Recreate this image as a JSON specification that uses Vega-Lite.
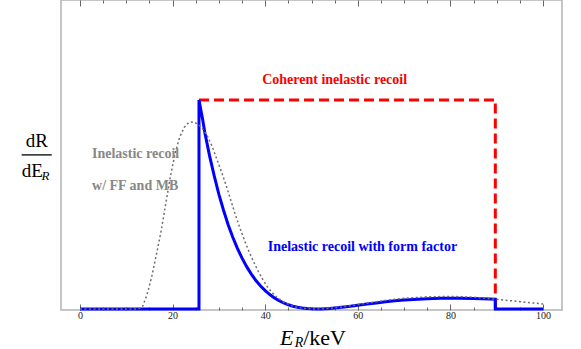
{
  "$schema": "https://vega.github.io/schema/vega-lite/v6.json",
  "width": 501,
  "height": 310,
  "autosize": "none",
  "padding": {"left": 61, "top": 0, "right": 19, "bottom": 39},
  "background": "white",
  "config": {
    "view": {"stroke": "#b4b4b4", "strokeWidth": 1.5},
    "text": {"font": "Liberation Serif"}
  },
  "data": {"values": [{}]},
  "datasets": {
    "curves": [
      {"s": "blue", "E": 0, "R": 0}, {"s": "blue", "E": 25.7, "R": 0}, {"s": "blue", "E": 25.7, "R": 1.0},
      {"s": "blue", "E": 26.5, "R": 0.905}, {"s": "blue", "E": 27, "R": 0.839}, {"s": "blue", "E": 28, "R": 0.731},
      {"s": "blue", "E": 29, "R": 0.636}, {"s": "blue", "E": 30, "R": 0.548}, {"s": "blue", "E": 31, "R": 0.472},
      {"s": "blue", "E": 32, "R": 0.403}, {"s": "blue", "E": 33, "R": 0.343}, {"s": "blue", "E": 34, "R": 0.29},
      {"s": "blue", "E": 35, "R": 0.243}, {"s": "blue", "E": 36, "R": 0.2025}, {"s": "blue", "E": 37, "R": 0.167},
      {"s": "blue", "E": 38, "R": 0.136}, {"s": "blue", "E": 39, "R": 0.11}, {"s": "blue", "E": 40, "R": 0.0875},
      {"s": "blue", "E": 41, "R": 0.069}, {"s": "blue", "E": 42, "R": 0.0527}, {"s": "blue", "E": 43, "R": 0.04},
      {"s": "blue", "E": 44, "R": 0.0286}, {"s": "blue", "E": 45, "R": 0.02}, {"s": "blue", "E": 46, "R": 0.0131},
      {"s": "blue", "E": 47, "R": 0.008}, {"s": "blue", "E": 48, "R": 0.0043}, {"s": "blue", "E": 49, "R": 0.0018},
      {"s": "blue", "E": 50, "R": 0.0004}, {"s": "blue", "E": 51, "R": 0}, {"s": "blue", "E": 52, "R": 0.0003},
      {"s": "blue", "E": 54, "R": 0.0027}, {"s": "blue", "E": 56, "R": 0.0068}, {"s": "blue", "E": 58, "R": 0.012},
      {"s": "blue", "E": 60, "R": 0.0178}, {"s": "blue", "E": 62, "R": 0.0235}, {"s": "blue", "E": 64, "R": 0.029},
      {"s": "blue", "E": 66, "R": 0.0342}, {"s": "blue", "E": 68, "R": 0.0388}, {"s": "blue", "E": 70, "R": 0.0428},
      {"s": "blue", "E": 72, "R": 0.0458}, {"s": "blue", "E": 75, "R": 0.0494}, {"s": "blue", "E": 78, "R": 0.051},
      {"s": "blue", "E": 80, "R": 0.0516}, {"s": "blue", "E": 82, "R": 0.0515}, {"s": "blue", "E": 85, "R": 0.0502},
      {"s": "blue", "E": 87, "R": 0.049}, {"s": "blue", "E": 89.7, "R": 0.0465}, {"s": "blue", "E": 89.7, "R": 0},
      {"s": "blue", "E": 100, "R": 0},
      {"s": "red", "E": 25.7, "R": 1.0}, {"s": "red", "E": 89.7, "R": 1.0}, {"s": "red", "E": 89.7, "R": 0},
      {"s": "gray", "E": 0, "R": 0}, {"s": "gray", "E": 12.5, "R": 0}, {"s": "gray", "E": 13.5, "R": 0.01},
      {"s": "gray", "E": 14.5, "R": 0.07}, {"s": "gray", "E": 15.5, "R": 0.155}, {"s": "gray", "E": 16.5, "R": 0.26},
      {"s": "gray", "E": 17.5, "R": 0.37}, {"s": "gray", "E": 18.5, "R": 0.5}, {"s": "gray", "E": 19.5, "R": 0.63},
      {"s": "gray", "E": 20.5, "R": 0.74}, {"s": "gray", "E": 21.5, "R": 0.82}, {"s": "gray", "E": 22.5, "R": 0.868},
      {"s": "gray", "E": 23.5, "R": 0.892}, {"s": "gray", "E": 24.5, "R": 0.895}, {"s": "gray", "E": 25.5, "R": 0.884},
      {"s": "gray", "E": 26.5, "R": 0.862}, {"s": "gray", "E": 27.5, "R": 0.828}, {"s": "gray", "E": 28.5, "R": 0.78},
      {"s": "gray", "E": 29.5, "R": 0.72}, {"s": "gray", "E": 30.5, "R": 0.66}, {"s": "gray", "E": 31.5, "R": 0.595},
      {"s": "gray", "E": 32.5, "R": 0.525}, {"s": "gray", "E": 33.5, "R": 0.455}, {"s": "gray", "E": 34.5, "R": 0.39},
      {"s": "gray", "E": 35.5, "R": 0.33}, {"s": "gray", "E": 36.5, "R": 0.275}, {"s": "gray", "E": 37.5, "R": 0.225},
      {"s": "gray", "E": 38.5, "R": 0.18}, {"s": "gray", "E": 39.5, "R": 0.14}, {"s": "gray", "E": 40.5, "R": 0.105},
      {"s": "gray", "E": 41.5, "R": 0.078}, {"s": "gray", "E": 42.5, "R": 0.056}, {"s": "gray", "E": 44, "R": 0.032},
      {"s": "gray", "E": 46, "R": 0.013}, {"s": "gray", "E": 48, "R": 0.004}, {"s": "gray", "E": 50, "R": 0},
      {"s": "gray", "E": 52, "R": 0}, {"s": "gray", "E": 54, "R": 0.003}, {"s": "gray", "E": 56, "R": 0.008},
      {"s": "gray", "E": 58, "R": 0.014}, {"s": "gray", "E": 60, "R": 0.021}, {"s": "gray", "E": 63, "R": 0.031},
      {"s": "gray", "E": 66, "R": 0.041}, {"s": "gray", "E": 70, "R": 0.051}, {"s": "gray", "E": 75, "R": 0.058},
      {"s": "gray", "E": 80, "R": 0.06}, {"s": "gray", "E": 85, "R": 0.056}, {"s": "gray", "E": 90, "R": 0.046},
      {"s": "gray", "E": 95, "R": 0.035}, {"s": "gray", "E": 100, "R": 0.024}
    ]
  },
  "resolve": {"axis": {"x": "independent"}},
  "layer": [
    {
      "data": {"name": "curves"},
      "transform": [{"filter": "datum.s === 'red'"}],
      "mark": {"type": "line", "color": "#ff0000", "strokeWidth": 3, "strokeDash": [10, 5]},
      "encoding": {
        "x": {"field": "E", "type": "quantitative",
              "scale": {"domain": [-4.1, 104.1], "nice": false, "zero": false},
              "axis": {"orient": "bottom", "values": [0,5,10,15,20,25,30,35,40,45,50,55,60,65,70,75,80,85,90,95,100],
                       "labelExpr": "datum.value % 20 === 0 ? datum.label : ''",
                       "tickSize": {"condition": {"test": "datum.value % 20 === 0", "value": -6}, "value": -3},
                       "tickColor": "#666666", "tickWidth": 1, "domain": false, "grid": false, "title": null,
                       "labelFont": "Liberation Serif", "labelFontSize": 10, "labelColor": "#222222",
                       "labelPadding": 6, "labelFlush": false, "labelOverlap": false}},
        "y": {"field": "R", "type": "quantitative",
              "scale": {"domain": [-0.005, 1.478], "nice": false, "zero": false}, "axis": null}
      }
    },
    {
      "data": {"name": "curves"},
      "transform": [{"filter": "datum.s === 'blue'"}],
      "mark": {"type": "line", "color": "#0000ff", "strokeWidth": 3},
      "encoding": {
        "x": {"field": "E", "type": "quantitative",
              "axis": {"orient": "top", "values": [0,5,10,15,20,25,30,35,40,45,50,55,60,65,70,75,80,85,90,95,100],
                       "labels": false,
                       "tickSize": {"condition": {"test": "datum.value % 20 === 0", "value": -6}, "value": -3},
                       "tickColor": "#666666", "tickWidth": 1, "domain": false, "grid": false, "title": null}},
        "y": {"field": "R", "type": "quantitative"}
      }
    },
    {
      "data": {"name": "curves"},
      "transform": [{"filter": "datum.s === 'gray'"}],
      "mark": {"type": "line", "color": "#6e6e6e", "strokeWidth": 1.5, "strokeDash": [2, 2.5]},
      "encoding": {
        "x": {"field": "E", "type": "quantitative", "axis": null},
        "y": {"field": "R", "type": "quantitative"}
      }
    },
    {
      "mark": {"type": "text", "text": "Coherent inelastic recoil", "font": "Liberation Serif", "color": "#ff0000", "fontWeight": "bold", "fontSize": 14, "align": "center", "baseline": "middle"},
      "encoding": {"x": {"datum": 55.0, "type": "quantitative", "axis": null}, "y": {"datum": 1.096, "type": "quantitative"}}
    },
    {
      "mark": {"type": "text", "text": "Inelastic recoil with form factor", "font": "Liberation Serif", "color": "#0000ff", "fontWeight": "bold", "fontSize": 14, "align": "center", "baseline": "middle"},
      "encoding": {"x": {"datum": 61.0, "type": "quantitative", "axis": null}, "y": {"datum": 0.294, "type": "quantitative"}}
    },
    {
      "mark": {"type": "text", "text": "Inelastic recoil", "font": "Liberation Serif", "color": "#888888", "fontWeight": "bold", "fontSize": 14, "align": "left", "baseline": "middle"},
      "encoding": {"x": {"datum": 2.6, "type": "quantitative", "axis": null}, "y": {"datum": 0.742, "type": "quantitative"}}
    },
    {
      "mark": {"type": "text", "text": "w/ FF and MB", "font": "Liberation Serif", "color": "#888888", "fontWeight": "bold", "fontSize": 14, "align": "left", "baseline": "middle"},
      "encoding": {"x": {"datum": 2.6, "type": "quantitative", "axis": null}, "y": {"datum": 0.589, "type": "quantitative"}}
    },
    {
      "mark": {"type": "text", "text": "dR", "font": "Liberation Serif", "color": "#000000", "fontSize": 19, "align": "center", "baseline": "alphabetic"},
      "encoding": {"x": {"datum": -9.3, "type": "quantitative", "axis": null}, "y": {"datum": 0.777, "type": "quantitative"}}
    },
    {
      "mark": {"type": "rule", "color": "#000000", "strokeWidth": 1.3},
      "encoding": {"x": {"datum": -12.6, "type": "quantitative", "axis": null}, "x2": {"datum": -6.1}, "y": {"datum": 0.737, "type": "quantitative"}}
    },
    {
      "mark": {"type": "text", "text": "dE", "font": "Liberation Serif", "color": "#000000", "fontSize": 19, "align": "left", "baseline": "alphabetic"},
      "encoding": {"x": {"datum": -12.6, "type": "quantitative", "axis": null}, "y": {"datum": 0.632, "type": "quantitative"}}
    },
    {
      "mark": {"type": "text", "text": "R", "font": "Liberation Serif", "color": "#000000", "fontSize": 13, "fontStyle": "italic", "align": "left", "baseline": "alphabetic"},
      "encoding": {"x": {"datum": -8.3, "type": "quantitative", "axis": null}, "y": {"datum": 0.617, "type": "quantitative"}}
    },
    {
      "mark": {"type": "text", "text": "E", "font": "Liberation Serif", "color": "#000000", "fontSize": 22, "fontStyle": "italic", "align": "left", "baseline": "alphabetic"},
      "encoding": {"x": {"datum": 43.2, "type": "quantitative", "axis": null}, "y": {"datum": -0.172, "type": "quantitative"}}
    },
    {
      "mark": {"type": "text", "text": "R", "font": "Liberation Serif", "color": "#000000", "fontSize": 14, "fontStyle": "italic", "align": "left", "baseline": "alphabetic"},
      "encoding": {"x": {"datum": 46.4, "type": "quantitative", "axis": null}, "y": {"datum": -0.182, "type": "quantitative"}}
    },
    {
      "mark": {"type": "text", "text": "/keV", "font": "Liberation Serif", "color": "#000000", "fontSize": 22, "align": "left", "baseline": "alphabetic"},
      "encoding": {"x": {"datum": 48.2, "type": "quantitative", "axis": null}, "y": {"datum": -0.172, "type": "quantitative"}}
    }
  ]
}
